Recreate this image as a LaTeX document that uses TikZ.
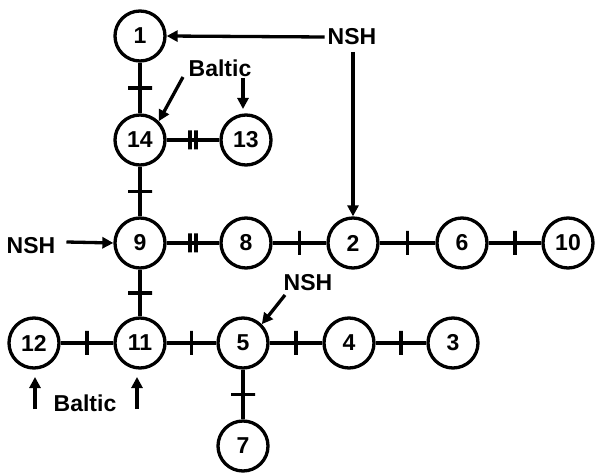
\documentclass[tikz,border=0pt]{standalone}
\usepackage{fontspec}
\setmainfont{Liberation Sans}[BoldFont={Liberation Sans Bold}]
\newfontfamily\heavy{Liberation Sans Bold}
\usetikzlibrary{arrows.meta}
\begin{document}
\begin{tikzpicture}[x=1pt,y=-1pt,
  bus/.style={circle,draw,line width=3.3pt,minimum size=50pt,inner sep=0pt,
    font=\heavy\fontsize{23}{23}\selectfont},
  lbl/.style={inner sep=0pt,font=\heavy\fontsize{23}{23}\selectfont},
  line/.style={line width=3.3pt},
  tick/.style={draw,line width=3.2pt,minimum width=0pt,minimum height=24pt,inner sep=0pt,sloped},
  dtick/.style={draw,line width=3.2pt,minimum width=0pt,minimum height=19pt,inner sep=0pt,sloped},
  inj/.style={line width=3.3pt,-{Triangle[length=11pt,width=11pt]}}]
\useasboundingbox (0,0) rectangle (595,473);
% buses
\node[bus] (b1)  at (140,36)  {1};
\node[bus] (b14) at (140,140) {14};
\node[bus] (b13) at (246,140) {13};
\node[bus] (b9)  at (140,243) {9};
\node[bus] (b8)  at (246,243) {8};
\node[bus] (b2)  at (353,243) {2};
\node[bus] (b6)  at (462,243) {6};
\node[bus] (b10) at (568,243) {10};
\node[bus] (b12) at (34,343)  {12};
\node[bus] (b11) at (140,343) {11};
\node[bus] (b5)  at (243,343) {5};
\node[bus] (b4)  at (349,343) {4};
\node[bus] (b3)  at (453,343) {3};
\node[bus] (b7)  at (243,446) {7};
% lines with a single tick
\draw[line] (b1)  -- node[tick]{} (b14);
\draw[line] (b14) -- node[tick]{} (b9);
\draw[line] (b9)  -- node[tick]{} (b11);
\draw[line] (b8)  -- node[tick]{} (b2);
\draw[line] (b2)  -- node[tick]{} (b6);
\draw[line] (b6)  -- node[tick]{} (b10);
\draw[line] (b12) -- node[tick]{} (b11);
\draw[line] (b11) -- node[tick]{} (b5);
\draw[line] (b5)  -- node[tick]{} (b4);
\draw[line] (b4)  -- node[tick]{} (b3);
\draw[line] (b5)  -- node[tick]{} (b7);
% lines with a double tick
\draw[line] (b14) -- node[dtick,xshift=-3pt]{} node[dtick,xshift=3pt]{} (b13);
\draw[line] (b9)  -- node[dtick,xshift=-3pt]{} node[dtick,xshift=3pt]{} (b8);
% injection labels
\node[lbl] (nshA) at (352,37)  {NSH};
\node[lbl] (nshB) at (31,246)  {NSH};
\node[lbl] (nshC) at (308,283) {NSH};
\node[lbl] (balA) at (220,68)  {Baltic};
\node[lbl] (balB) at (85,403)  {Baltic};
\coordinate (nshAdown) at (353,52);
\coordinate (balAl) at (183,77);
\coordinate (balAr) at (243,78);
\coordinate (bt12) at (35,409);
\coordinate (bt11) at (137,409);
% injection arrows
\draw[inj] (nshA.west) ++(-3,0) -- (b1.east);
\draw[inj] (nshAdown) -- (b2.north);
\draw[inj] (nshB.east) ++(11,-4) -- (b9.west);
\draw[inj] (285,295) -- (b5.north east);
\draw[inj] (balAl) -- (b14.north east);
\draw[inj] (balAr) -- (243,109);
\draw[inj] (bt12) -- (35,377);
\draw[inj] (bt11) -- (137,377);
\end{tikzpicture}
\end{document}
